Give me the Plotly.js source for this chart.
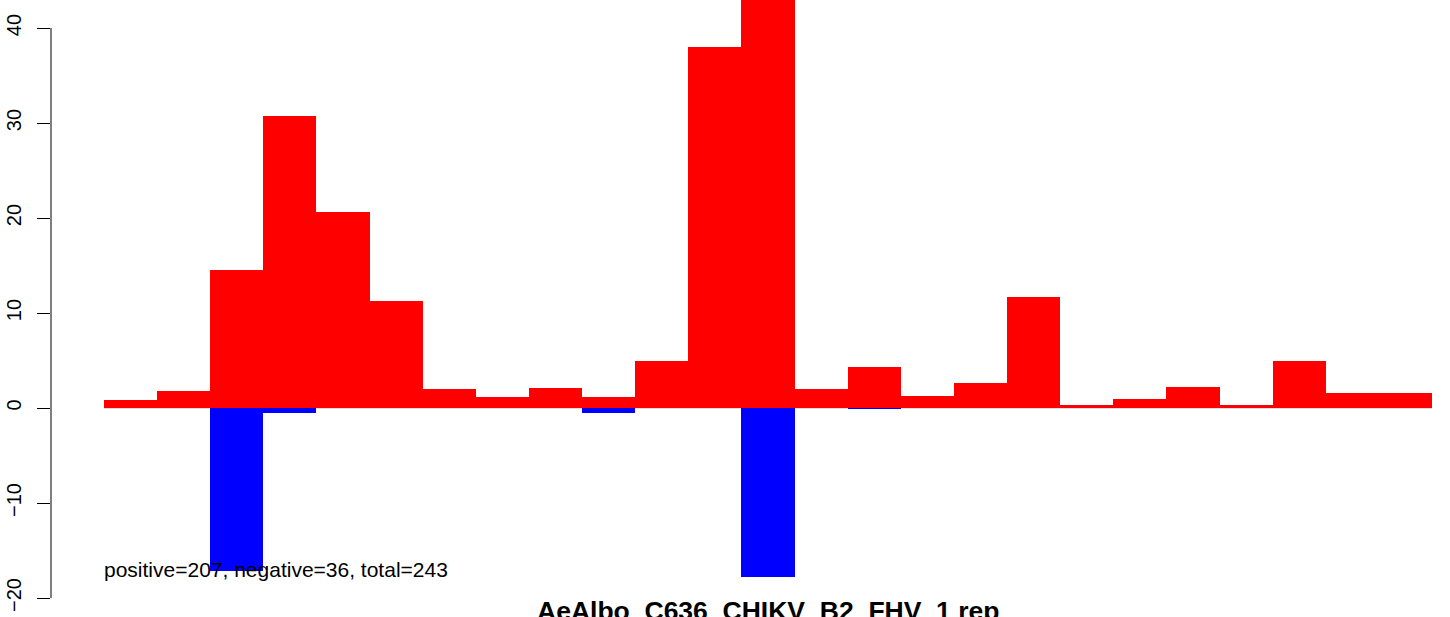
<!DOCTYPE html>
<html>
<head>
<meta charset="utf-8">
<script src="https://cdn.plot.ly/plotly-3.0.1.min.js"></script>
<style>
html,body{margin:0;padding:0;background:#fff;}
#chart{width:1450px;height:617px;}
</style>
</head>
<body>
<div id="chart"></div>
<script>
// Bin index (25 bins)
const bins = [0,1,2,3,4,5,6,7,8,9,10,11,12,13,14,15,16,17,18,19,20,21,22,23,24];
// Positive counts (red)
const positiveValues = [0.8,1.8,14.5,30.7,20.6,11.3,2.0,1.2,2.1,1.2,4.9,38.0,45.0,2.0,4.3,1.3,2.6,11.7,0.3,1.0,2.2,0.3,5.0,1.6,1.6];
// Negative counts (blue)
const negativeValues = [0,0,-17.2,-0.5,0,0,0,0,0,-0.5,0,0,-17.8,0,-0.15,0,0,0,0,0,0,0,0,0,0];
const yTicks = [-20,-10,0,10,20,30,40];
const yTickLabels = ['\u221220','\u221210','0','10','20','30','40'];
const summaryText = 'positive=207, negative=36, total=243';
const titleText = 'AeAlbo_C636_CHIKV_B2_FHV_1 rep';

const FONT = 'Liberation Sans, Arial, Helvetica, sans-serif';

const traces = [
  {type:'bar', x:bins, y:positiveValues, width:1, marker:{color:'#FF0000', line:{width:0}}, hoverinfo:'skip'},
  {type:'bar', x:bins, y:negativeValues, width:1, marker:{color:'#0000FF', line:{width:0}}, hoverinfo:'skip'}
];

const layout = {
  width:1450, height:617,
  margin:{l:51, r:18, t:0, b:19, pad:0},
  paper_bgcolor:'#fff', plot_bgcolor:'#fff',
  showlegend:false,
  barmode:'overlay',
  bargap:0,
  font:{family:FONT, color:'#000'},
  xaxis:{range:[-1.498, 24.5], showgrid:false, zeroline:false, showline:false, showticklabels:false, ticks:'', fixedrange:true},
  yaxis:{range:[-20, 42.95], showgrid:false, zeroline:false, showline:false,
         tickmode:'array', tickvals:yTicks, ticktext:yTickLabels,
         ticks:'outside', ticklen:13, tickwidth:1, tickcolor:'#000',
         tickangle:-90, tickfont:{family:FONT, size:20, color:'#000'},
         ticklabelstandoff:8, fixedrange:true},
  shapes:[
    {type:'line', xref:'paper', x0:0, x1:0, yref:'y', y0:-20, y1:40, line:{color:'#000', width:1}},
    {type:'line', xref:'x', x0:-0.5, x1:24.5, yref:'y', y0:0, y1:0, line:{color:'#BEBEBE', width:1}, layer:'below'}
  ],
  annotations:[
    {xref:'x', yref:'y', x:-0.5, y:-17.05, xanchor:'left', yanchor:'middle', xshift:-2, showarrow:false,
     text:summaryText, font:{family:FONT, size:21, color:'#000'}},
    {xref:'x', yref:'paper', x:12, y:0, xanchor:'center', yanchor:'top', yshift:4, showarrow:false,
     text:'<b>'+titleText+'</b>', font:{family:FONT, size:26.5, color:'#000'}}
  ]
};

Plotly.newPlot('chart', traces, layout, {displayModeBar:false, staticPlot:true});
</script>
</body>
</html>
